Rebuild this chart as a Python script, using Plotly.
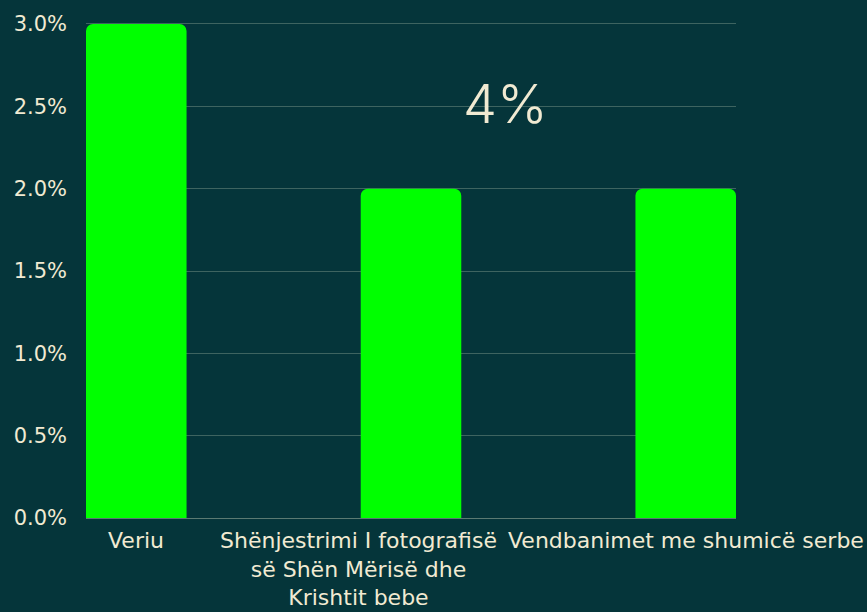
import plotly.graph_objects as go

categories = ["Veriu", "Shënjestrimi I fotografisë së Shën Mërisë dhe Krishtit bebe",
              "Vendbanimet me shumicë serbe"]
category_labels = ["Veriu",
                   "Shënjestrimi I fotografisë<br>së Shën Mërisë dhe<br>Krishtit bebe",
                   "Vendbanimet me shumicë serbe"]
label_shift = [0, -53, 0]
values = [0.03, 0.02, 0.02]
y_ticks = [0, 0.005, 0.01, 0.015, 0.02, 0.025, 0.03]
y_ticklabels = ["0.0%", "0.5%", "1.0%", "1.5%", "2.0%", "2.5%", "3.0%"]

bg = "#05353a"
cream = "#f1ead2"
label_font = dict(family="DejaVu Sans", size=22, color=cream)

fig = go.Figure(go.Bar(
    x=categories, y=values,
    marker=dict(color="#00ff00", line=dict(width=0)),
    width=0.366,
))

# category labels placed on the x axis (second one nudged left like the original)
annotations = []
for cat, lab, sh in zip(categories, category_labels, label_shift):
    annotations.append(dict(text=lab, x=cat, y=0, xref="x", yref="paper",
                            xanchor="center", yanchor="top", align="center",
                            yshift=-8, xshift=sh, showarrow=False, font=label_font))
annotations.append(dict(
    text="4%", x=0.646, y=0.835, xref="paper", yref="paper",
    xanchor="center", yanchor="middle", showarrow=False,
    font=dict(size=54, color=cream, family="Inter", weight=300),
))

fig.update_layout(
    width=867, height=612,
    paper_bgcolor=bg, plot_bgcolor=bg,
    margin=dict(l=86, r=131, t=19, b=94),
    barcornerradius=7,
    showlegend=False,
    font=dict(family="DejaVu Sans", color=cream, size=20),
    annotations=annotations,
)
fig.update_xaxes(range=[-0.183, 2.183], showgrid=False, ticks="",
                 showticklabels=False,
                 showline=True, linecolor="#5b7a72", linewidth=1)
# top of range a hair above 3% so its gridline is drawn
fig.update_yaxes(range=[0, 0.030121], tickvals=y_ticks, ticktext=y_ticklabels,
                 showgrid=True, gridcolor="rgba(170,190,170,0.35)", gridwidth=1,
                 zeroline=False, ticks="", ticklabelstandoff=18,
                 tickfont=dict(size=21, color=cream))

fig.write_html("out.html", config={"displayModeBar": False},
               post_script="document.body.style.margin='0';"
                           "document.body.style.background='" + bg + "';")
